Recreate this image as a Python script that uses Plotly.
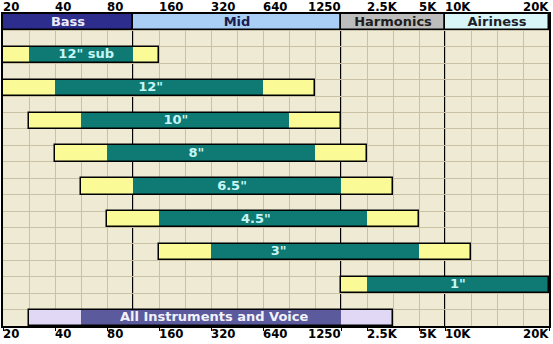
import plotly.graph_objects as go

# ---- data (grid columns 0..21, rows 0..19 from the top) ----
tick_labels = ["20", "40", "80", "160", "320", "640", "1250", "2.5K", "5K", "10K", "20K"]
tick_cols = [0, 2, 4, 6, 8, 10, 13, 14, 16, 17, 21]
tick_anchor = ["left", "left", "left", "left", "left", "left", "right", "left", "left", "left", "right"]

band_names = ["Bass", "Mid", "Harmonics", "Airiness"]
band_start = [0, 5, 13, 17]
band_end = [5, 13, 17, 21]

drivers = ['12" sub', '12"', '10"', '8"', '6.5"', '4.5"', '3"', '1"']
driver_rows = [2, 4, 6, 8, 10, 12, 14, 16]
range_start = [0, 0, 1, 2, 3, 4, 6, 13]
core_start = [1, 2, 3, 4, 5, 6, 8, 14]
core_end = [5, 10, 11, 12, 13, 14, 16, 21]
range_end = [6, 12, 13, 14, 15, 16, 18, 21]
label_cols = [3.2, 5.68, 6.65, 7.44, 8.81, 9.73, 10.6, 17.5]

voice_label = "All Instruments and Voice"
voice_row = 18
voice_range = [1, 15]
voice_core = [3, 13]
voice_label_col = 8.12

N_COLS = 21
N_ROWS = 19

# ---- styles ----
BG = "#EFEAD3"
GRID = "#C9C0A6"
YELLOW = "#FAFA96"
TEAL = "#0F7A73"
TEAL_TEXT = "#C6F6F6"
LAV = "#E1D8F6"
VOICE = "#5A5A9C"
band_colors = ["#2C2D8C", "#A9CFF6", "#BDBDBD", "#D8F6F8"]
band_text_colors = ["#ECECFA", "#1C1C4C", "#1E1E1E", "#1E1E2A"]
BAR_FONT = "DejaVu Sans"
TICK_FONT = "Liberation Sans Narrow, DejaVu Sans Condensed, sans-serif"

fig = go.Figure()

def hbar(rows, starts, ends, color, line_w=0, line_c="black"):
    fig.add_trace(go.Bar(
        orientation="h", y=[r + 0.5 for r in rows], base=starts,
        x=[e - s for s, e in zip(starts, ends)], width=1,
        marker=dict(color=color, line=dict(width=line_w, color=line_c)),
        hoverinfo="skip", showlegend=False))

# header bands
hbar([0] * len(band_names), band_start, band_end, band_colors, 1.5)

# driver bars
hbar(driver_rows, range_start, core_start, YELLOW)
hbar(driver_rows, core_end, range_end, YELLOW)
hbar(driver_rows, core_start, core_end, TEAL)
hbar(driver_rows, range_start, range_end, "rgba(0,0,0,0)", 1.5)

# voice bar
hbar([voice_row], [voice_range[0]], [voice_range[1]], LAV)
hbar([voice_row], [voice_core[0]], [voice_core[1]], VOICE)
hbar([voice_row], [voice_range[0]], [voice_range[1]], "rgba(0,0,0,0)", 1.5)

# texts
fig.add_trace(go.Scatter(
    x=[(s + e) / 2 for s, e in zip(band_start, band_end)], y=[0.55] * len(band_names),
    mode="text", text=band_names,
    textfont=dict(family=BAR_FONT, size=13, color=band_text_colors, weight="bold"),
    hoverinfo="skip", showlegend=False))
fig.add_trace(go.Scatter(
    x=label_cols, y=[r + 0.5 for r in driver_rows], mode="text", text=drivers,
    textfont=dict(family=BAR_FONT, size=13, color=TEAL_TEXT, weight="bold"),
    hoverinfo="skip", showlegend=False))
fig.add_trace(go.Scatter(
    x=[voice_label_col], y=[voice_row + 0.5], mode="text", text=[voice_label],
    textfont=dict(family=BAR_FONT, size=13, color="#F2F2FA", weight="bold"),
    hoverinfo="skip", showlegend=False))

# thick band dividers
for xv in band_start[1:]:
    fig.add_shape(type="line", xref="x", yref="paper", x0=xv, x1=xv, y0=0, y1=1,
                  line=dict(color="black", width=2), layer="between")

# tick labels top & bottom
for lab, c, anc in zip(tick_labels, tick_cols, tick_anchor):
    for yv, ya, ys in [(1, "bottom", 0), (0, "top", 0)]:
        fig.add_annotation(x=c, xref="x", y=yv, yref="paper", text=lab, showarrow=False,
                           xanchor=anc, yanchor=ya, yshift=ys, borderpad=0, borderwidth=0,
                           font=dict(family=TICK_FONT, size=13, color="black", weight="bold"))

fig.update_layout(
    width=553, height=344, margin=dict(l=3, r=4, t=14, b=18),
    paper_bgcolor="white", plot_bgcolor=BG, barmode="overlay", bargap=0,
    showlegend=False,
    xaxis=dict(range=[0, N_COLS], tickvals=tick_cols, showticklabels=False,
               ticks="outside", ticklen=3, tickcolor="black",
               showgrid=True, gridcolor=GRID, gridwidth=1, zeroline=False,
               minor=dict(dtick=1, tick0=0, showgrid=True, gridcolor=GRID, gridwidth=1, ticks=""),
               showline=True, linecolor="black", linewidth=2, mirror=True, fixedrange=True),
    yaxis=dict(range=[N_ROWS, 0], tickvals=list(range(N_ROWS + 1)), showticklabels=False,
               showgrid=True, gridcolor=GRID, gridwidth=1, zeroline=False,
               showline=True, linecolor="black", linewidth=2, mirror=True, fixedrange=True),
)

fig.write_html("out.html")
